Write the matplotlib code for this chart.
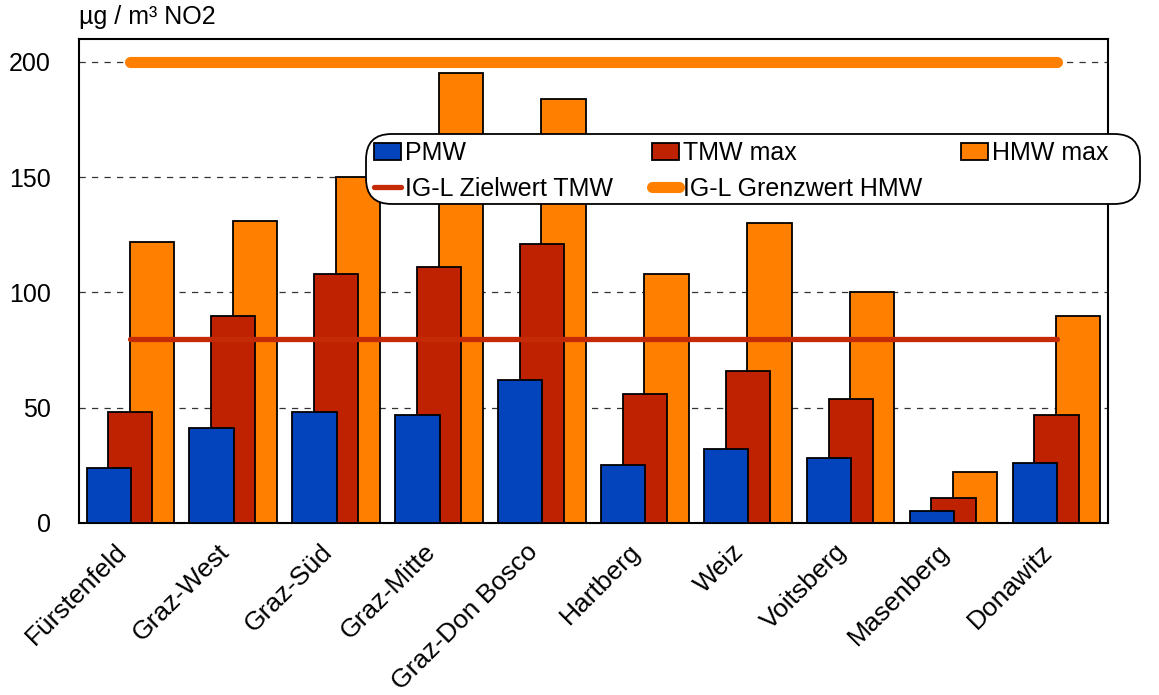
import numpy as np
import matplotlib.pyplot as plt
from matplotlib.transforms import ScaledTranslation
from matplotlib.patches import FancyBboxPatch

plt.rcParams['font.family'] = ['Liberation Sans', 'DejaVu Sans']

# Messstellen und Werte (µg/m³ NO2)
stationen = ['Fürstenfeld', 'Graz-West', 'Graz-Süd', 'Graz-Mitte', 'Graz-Don Bosco',
             'Hartberg', 'Weiz', 'Voitsberg', 'Masenberg', 'Donawitz']
pmw     = [24, 41, 48, 47, 62, 25, 32, 28, 5, 26]
tmw_max = [48, 90, 108, 111, 121, 56, 66, 54, 11, 47]
hmw_max = [122, 131, 150, 195, 184, 108, 130, 100, 22, 90]

zielwert_tmw = 80
grenzwert_hmw = 200

c_pmw = '#0343BC'
c_tmw = '#BF2200'
c_hmw = '#FF8000'

fig = plt.figure(figsize=(11.59, 6.95), dpi=100)
ax = fig.add_axes([0.068, 0.2475, 0.888, 0.6965])

x = np.arange(len(stationen))
w = 0.43
d = 0.21

# hinten nach vorne: HMW, TMW, PMW
b_hmw = ax.bar(x + d, hmw_max, w, color=c_hmw, edgecolor='black', linewidth=1.3, zorder=2, label='HMW max')
b_tmw = ax.bar(x, tmw_max, w, color=c_tmw, edgecolor='black', linewidth=1.3, zorder=3, label='TMW max')
b_pmw = ax.bar(x - d, pmw, w, color=c_pmw, edgecolor='black', linewidth=1.3, zorder=4, label='PMW')

l_ziel, = ax.plot([x[0], x[-1]], [zielwert_tmw, zielwert_tmw], color='#C42A06', lw=3.8,
                  solid_capstyle='round', zorder=5, label='IG-L Zielwert TMW')
l_grenz, = ax.plot([x[0], x[-1]], [grenzwert_hmw, grenzwert_hmw], color=c_hmw, lw=8,
                   solid_capstyle='round', zorder=5, label='IG-L Grenzwert HMW')

ax.set_xlim(-0.5, len(stationen) - 0.5)
ax.set_ylim(0, 210)
ax.set_yticks([0, 50, 100, 150, 200])
ax.yaxis.grid(True, linestyle=(0, (5, 5)), color='#333333', linewidth=0.9, zorder=0)
ax.set_axisbelow(True)

ax.set_xticks(x)
ax.set_xticklabels(stationen, rotation=45, ha='right', rotation_mode='anchor', fontsize=19)
ax.tick_params(axis='x', length=0, pad=12)
ax.tick_params(axis='y', length=0, pad=20, labelsize=18)
# Beschriftung etwas nach links schieben
verschiebung = ScaledTranslation(-0.16, 0, fig.dpi_scale_trans)
for lab in ax.get_xticklabels():
    lab.set_transform(lab.get_transform() + verschiebung)
for s in ax.spines.values():
    s.set_linewidth(1.5)

ax.text(0, 1.02, 'µg / m³ NO2', transform=ax.transAxes, ha='left', va='bottom', fontsize=18)

# Rahmen der Legende (rechts mit mehr Platz als links)
rahmen = FancyBboxPatch((0.3158, 0.7065), 0.6678, 0.1007, transform=fig.transFigure,
                        boxstyle='round,pad=0,rounding_size=0.022', mutation_aspect=1.67,
                        facecolor='white', edgecolor='black', linewidth=1.3, zorder=3)
fig.add_artist(rahmen)

# Legende, zeilenweise sortiert
handles = [b_pmw, l_ziel, b_tmw, l_grenz, b_hmw]
labels = [h.get_label() for h in handles]
leg = fig.legend(handles, labels, ncol=3, loc='upper left',
                 bbox_to_anchor=(0.3158, 0.8072),
                 fontsize=18, handlelength=1.1, handletextpad=0.15,
                 labelspacing=0.45, borderpad=0.3, columnspacing=1.55,
                 frameon=False, borderaxespad=0)
leg.set_zorder(4)

plt.savefig('out.png', dpi=100)
